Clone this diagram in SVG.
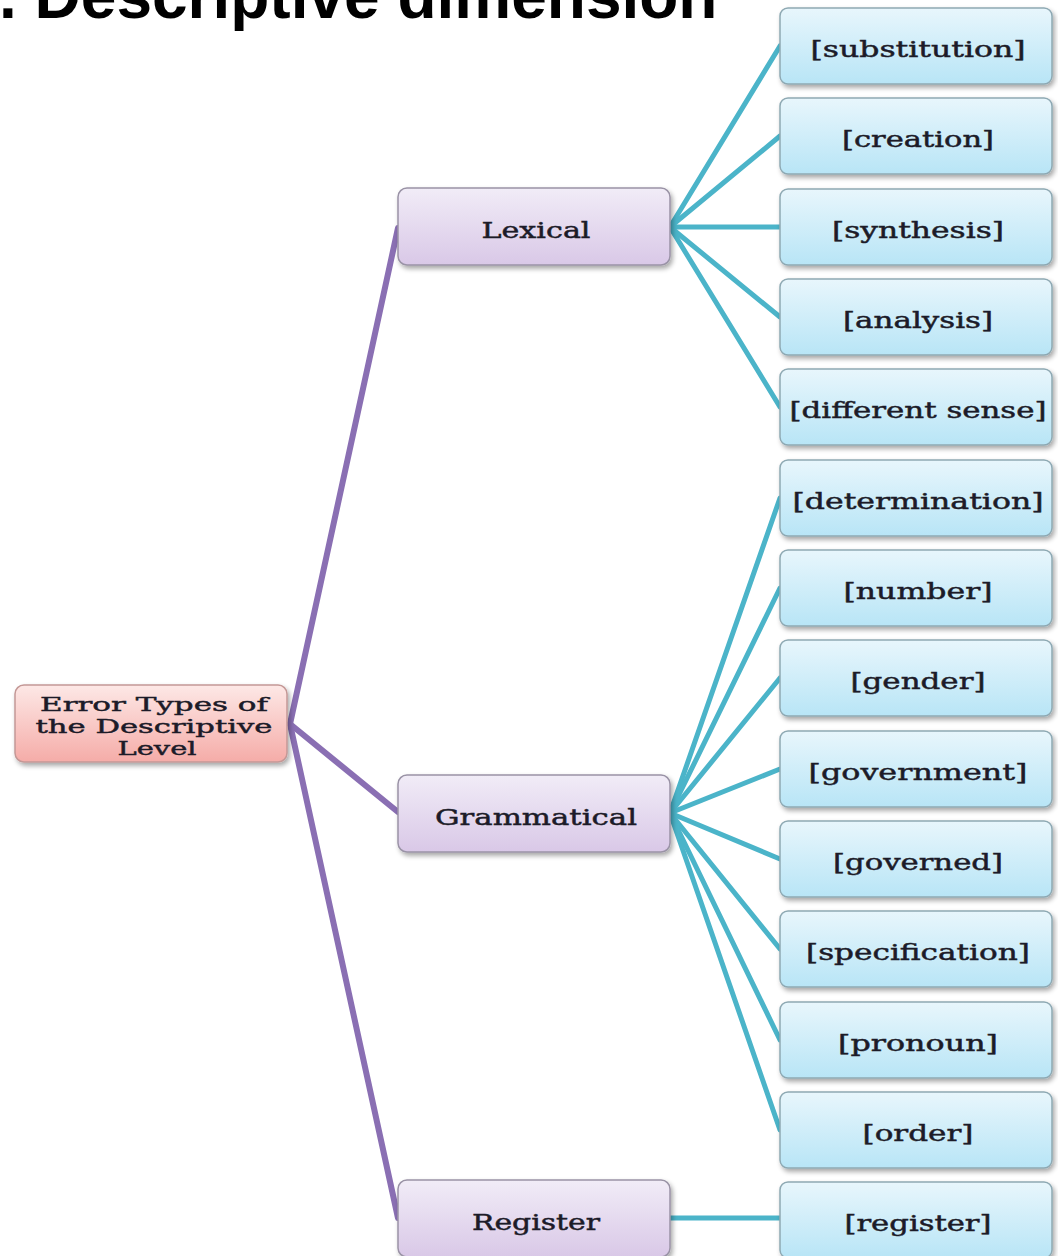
<svg xmlns="http://www.w3.org/2000/svg" width="1058" height="1256" viewBox="0 0 1058 1256">
<defs>
<linearGradient id="gLeaf" x1="0" y1="0" x2="0" y2="1"><stop offset="0" stop-color="#e8f6fc"/><stop offset="1" stop-color="#b8e5f6"/></linearGradient>
<linearGradient id="gMid" x1="0" y1="0" x2="0" y2="1"><stop offset="0" stop-color="#f1ecf7"/><stop offset="1" stop-color="#d9c8e7"/></linearGradient>
<linearGradient id="gRoot" x1="0" y1="0" x2="0" y2="1"><stop offset="0" stop-color="#fde8e6"/><stop offset="1" stop-color="#f5aca8"/></linearGradient>
<filter id="sh" x="-10%" y="-20%" width="125%" height="150%"><feGaussianBlur in="SourceAlpha" stdDeviation="2.5"/><feOffset dx="2" dy="3" result="b"/><feComponentTransfer><feFuncA type="linear" slope="0.35"/></feComponentTransfer><feMerge><feMergeNode/><feMergeNode in="SourceGraphic"/></feMerge></filter>
</defs>
<style>
.leaf{fill:url(#gLeaf);stroke:#8ea9b3;stroke-width:1.5}
.mid{fill:url(#gMid);stroke:#9a93a6;stroke-width:1.5}
.root{fill:url(#gRoot);stroke:#c49896;stroke-width:1.5}
.t{font-family:"DejaVu Serif","Liberation Serif",serif;font-size:22px;fill:#1c1b28;stroke:#1c1b28;stroke-width:0.45;text-anchor:middle}
.r{font-size:19px}
.p{stroke:#8a6fb3;stroke-width:6;fill:none;stroke-linecap:round}
.c{stroke:#4bb4c9;stroke-width:5;fill:none;stroke-linecap:round}
.title{font-family:"Liberation Sans",Arial,sans-serif;font-weight:bold;font-size:64px;fill:#000}
</style>
<rect width="1058" height="1256" fill="#ffffff"/>
<text class="title" x="-1" y="18">. Descriptive dimension</text>
<g id="connectors">
<line class="p" x1="290" y1="724" x2="398" y2="228"/>
<line class="p" x1="290" y1="724" x2="398" y2="812"/>
<line class="p" x1="290" y1="724" x2="398" y2="1218"/>
<line class="c" x1="670" y1="227" x2="780" y2="46"/>
<line class="c" x1="670" y1="227" x2="780" y2="136"/>
<line class="c" x1="670" y1="227" x2="780" y2="227"/>
<line class="c" x1="670" y1="227" x2="780" y2="317"/>
<line class="c" x1="670" y1="227" x2="780" y2="407"/>
<line class="c" x1="670" y1="813" x2="780" y2="498"/>
<line class="c" x1="670" y1="813" x2="780" y2="588"/>
<line class="c" x1="670" y1="813" x2="780" y2="678"/>
<line class="c" x1="670" y1="813" x2="780" y2="769"/>
<line class="c" x1="670" y1="813" x2="780" y2="859"/>
<line class="c" x1="670" y1="813" x2="780" y2="949"/>
<line class="c" x1="670" y1="813" x2="780" y2="1040"/>
<line class="c" x1="670" y1="813" x2="780" y2="1130"/>
<line class="c" x1="670" y1="1218" x2="780" y2="1218"/>
</g>
<g id="root"><rect class="root" filter="url(#sh)" x="15" y="685" width="272" height="77" rx="9"/>
<text class="t r"><tspan x="154" y="711" textLength="228" lengthAdjust="spacingAndGlyphs">Error Types of</tspan><tspan x="154" y="733" textLength="237" lengthAdjust="spacingAndGlyphs">the Descriptive</tspan><tspan x="157" y="755" textLength="79" lengthAdjust="spacingAndGlyphs">Level</tspan></text></g>
<g id="lexical"><rect class="mid" filter="url(#sh)" x="398" y="188" width="272" height="77" rx="9"/><text class="t" x="536" y="238" textLength="109" lengthAdjust="spacingAndGlyphs">Lexical</text></g>
<g id="grammatical"><rect class="mid" filter="url(#sh)" x="398" y="775" width="272" height="77" rx="9"/><text class="t" x="536" y="825" textLength="202" lengthAdjust="spacingAndGlyphs">Grammatical</text></g>
<g id="register"><rect class="mid" filter="url(#sh)" x="398" y="1180" width="272" height="77" rx="9"/><text class="t" x="536" y="1230" textLength="128" lengthAdjust="spacingAndGlyphs">Register</text></g>
<g id="leaf-substitution"><rect class="leaf" filter="url(#sh)" x="780" y="8" width="272" height="76" rx="8"/><text class="t" x="918" y="57" textLength="215" lengthAdjust="spacingAndGlyphs">[substitution]</text></g>
<g id="leaf-creation"><rect class="leaf" filter="url(#sh)" x="780" y="98" width="272" height="76" rx="8"/><text class="t" x="918" y="147" textLength="152" lengthAdjust="spacingAndGlyphs">[creation]</text></g>
<g id="leaf-synthesis"><rect class="leaf" filter="url(#sh)" x="780" y="189" width="272" height="76" rx="8"/><text class="t" x="918" y="238" textLength="172" lengthAdjust="spacingAndGlyphs">[synthesis]</text></g>
<g id="leaf-analysis"><rect class="leaf" filter="url(#sh)" x="780" y="279" width="272" height="76" rx="8"/><text class="t" x="918" y="328" textLength="150" lengthAdjust="spacingAndGlyphs">[analysis]</text></g>
<g id="leaf-different-sense"><rect class="leaf" filter="url(#sh)" x="780" y="369" width="272" height="76" rx="8"/><text class="t" x="918" y="418" textLength="257" lengthAdjust="spacingAndGlyphs">[different sense]</text></g>
<g id="leaf-determination"><rect class="leaf" filter="url(#sh)" x="780" y="460" width="272" height="76" rx="8"/><text class="t" x="918" y="509" textLength="251" lengthAdjust="spacingAndGlyphs">[determination]</text></g>
<g id="leaf-number"><rect class="leaf" filter="url(#sh)" x="780" y="550" width="272" height="76" rx="8"/><text class="t" x="918" y="599" textLength="149" lengthAdjust="spacingAndGlyphs">[number]</text></g>
<g id="leaf-gender"><rect class="leaf" filter="url(#sh)" x="780" y="640" width="272" height="76" rx="8"/><text class="t" x="918" y="689" textLength="135" lengthAdjust="spacingAndGlyphs">[gender]</text></g>
<g id="leaf-government"><rect class="leaf" filter="url(#sh)" x="780" y="731" width="272" height="76" rx="8"/><text class="t" x="918" y="780" textLength="219" lengthAdjust="spacingAndGlyphs">[government]</text></g>
<g id="leaf-governed"><rect class="leaf" filter="url(#sh)" x="780" y="821" width="272" height="76" rx="8"/><text class="t" x="918" y="870" textLength="170" lengthAdjust="spacingAndGlyphs">[governed]</text></g>
<g id="leaf-specification"><rect class="leaf" filter="url(#sh)" x="780" y="911" width="272" height="76" rx="8"/><text class="t" x="918" y="960" textLength="224" lengthAdjust="spacingAndGlyphs">[specification]</text></g>
<g id="leaf-pronoun"><rect class="leaf" filter="url(#sh)" x="780" y="1002" width="272" height="76" rx="8"/><text class="t" x="918" y="1051" textLength="160" lengthAdjust="spacingAndGlyphs">[pronoun]</text></g>
<g id="leaf-order"><rect class="leaf" filter="url(#sh)" x="780" y="1092" width="272" height="76" rx="8"/><text class="t" x="918" y="1141" textLength="111" lengthAdjust="spacingAndGlyphs">[order]</text></g>
<g id="leaf-register"><rect class="leaf" filter="url(#sh)" x="780" y="1182" width="272" height="76" rx="8"/><text class="t" x="918" y="1231" textLength="147" lengthAdjust="spacingAndGlyphs">[register]</text></g>
</svg>
